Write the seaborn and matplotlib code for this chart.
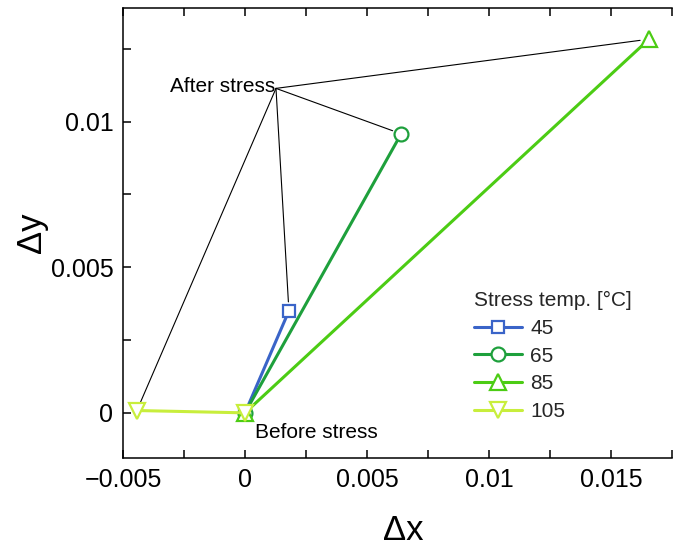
import matplotlib
matplotlib.use("Agg")
import matplotlib.pyplot as plt
import seaborn as sns
import pandas as pd
from matplotlib.ticker import FixedLocator, MultipleLocator

sns.set_theme(style="ticks")
plt.rcParams['font.family'] = ['Liberation Sans', 'DejaVu Sans']

# Data
temps = ["45", "65", "85", "105"]
before_x = [0.0, 0.0, 0.0, 0.0]
before_y = [0.0, 0.0, 0.0, 0.0]
after_x = [0.0018, 0.0064, 0.01656, -0.00443]
after_y = [0.00350, 0.00958, 0.01283, 0.00008]
colors = ["#3a64c8", "#1ea03c", "#4ccc14", "#c8ee3c"]
markers = ["s", "o", "^", "v"]
marker_sizes = [9, 10, 11, 11]

xticks = [-0.005, 0, 0.005, 0.01, 0.015]
xtick_labels = ["\u22120.005", "0", "0.005", "0.01", "0.015"]
yticks = [0, 0.005, 0.01]
ytick_labels = ["0", "0.005", "0.01"]

hub = (0.00127, 0.01114)

rows = []
for t, bx, by, ax_, ay in zip(temps, before_x, before_y, after_x, after_y):
    rows.append({"temp": t, "dx": bx, "dy": by, "order": 0})
    rows.append({"temp": t, "dx": ax_, "dy": ay, "order": 1})
df = pd.DataFrame(rows)

fig = plt.figure(figsize=(6.73, 5.5), dpi=100)
ax = fig.add_axes([123 / 673, 1 - 458 / 550, (672 - 123) / 673, (458 - 8) / 550])

for i, t in enumerate(temps):
    sub = df[df["temp"] == t]
    sns.lineplot(data=sub, x="dx", y="dy", sort=False, ax=ax, color=colors[i],
                 marker=markers[i], markersize=marker_sizes[i], markerfacecolor="white",
                 markeredgecolor=colors[i], markeredgewidth=1.6, linewidth=2.2,
                 label=t, zorder=3 + i)

# annotation lines
for x, y in zip(after_x, after_y):
    ax.annotate("", xy=(x, y), xytext=hub,
                arrowprops=dict(arrowstyle="-", color="black", lw=0.8,
                                shrinkA=0, shrinkB=6.5), zorder=2)
ax.text(hub[0] - 0.00003, hub[1] + 0.00008, "After stress", ha="right", va="center",
        fontsize=15, color="black")
ax.text(0.00041, -0.00068, "Before stress", ha="left", va="center",
        fontsize=15, color="black")

ax.set_xlim(-0.005, 0.0175)
ax.set_ylim(-0.00155, 0.0139)
ax.xaxis.set_major_locator(FixedLocator(xticks))
ax.set_xticklabels(xtick_labels)
ax.yaxis.set_major_locator(FixedLocator(yticks))
ax.set_yticklabels(ytick_labels)
ax.xaxis.set_minor_locator(MultipleLocator(0.0025))
ax.yaxis.set_minor_locator(MultipleLocator(0.0025))

ax.tick_params(which="both", direction="in", top=True, right=False, bottom=True, left=True,
               labelsize=18, width=1.1, color="black", labelcolor="black")
ax.tick_params(which="major", length=6, pad=7)
ax.tick_params(which="minor", length=6)

for s in ["left", "bottom", "top"]:
    ax.spines[s].set_linewidth(1.1)
    ax.spines[s].set_color("black")
ax.spines["right"].set_visible(False)

ax.set_xlabel("\u0394x", fontsize=25, color="black")
ax.xaxis.set_label_coords(0.51, -0.125)
ax.set_ylabel("\u0394y", fontsize=25, labelpad=2, color="black")

leg = ax.legend(title="Stress temp. [\u00b0C]", loc="upper left",
                bbox_to_anchor=((474 - 123) / 549, (458 - 291) / 450),
                frameon=False, fontsize=15, title_fontsize=15,
                handlelength=2.3, handletextpad=0.4, labelspacing=0.42,
                borderaxespad=0, borderpad=0)
leg._legend_box.align = "left"

fig.savefig("out.png", dpi=100)
